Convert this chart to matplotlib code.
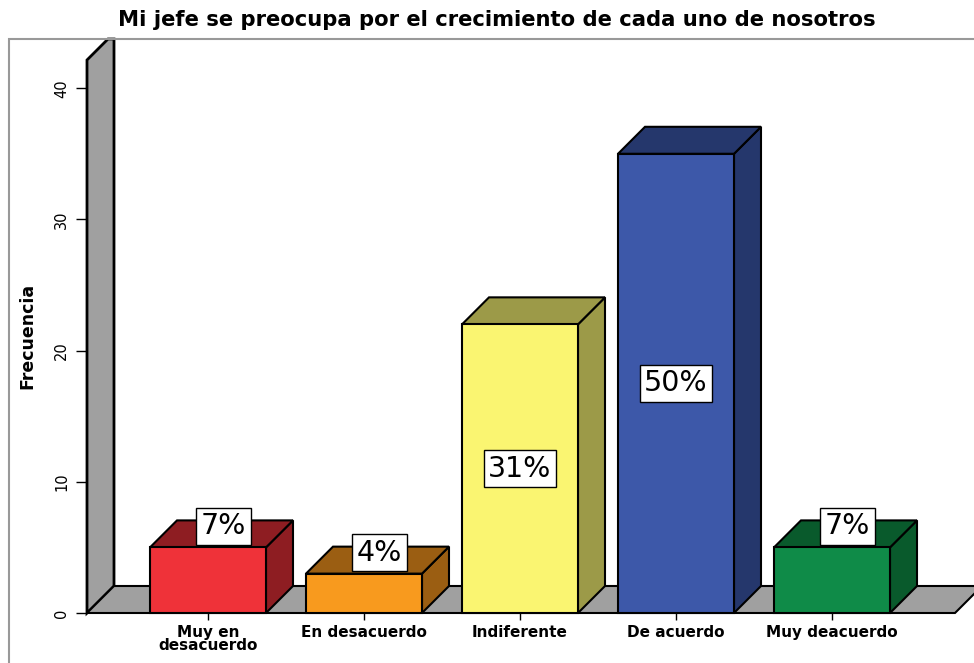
import matplotlib.pyplot as plt
from matplotlib.patches import Polygon, Rectangle

categorias = ["Muy en\ndesacuerdo", "En desacuerdo", "Indiferente", "De acuerdo", "Muy deacuerdo"]
frecuencias = [5, 3, 22, 35, 5]
porcentajes = ["7%", "4%", "31%", "50%", "7%"]
colores_frente = ["#EF3239", "#F89A1E", "#FAF571", "#3D58A9", "#0F8B48"]
colores_lado = ["#8E1D22", "#9B5E12", "#9C9A48", "#25376C", "#095A2C"]
yticks = [0, 10, 20, 30, 40]

W, H = 974, 663
fig = plt.figure(figsize=(W / 100, H / 100), dpi=100)

# axes placed so that 0 sits on the front edge of the floor
ax_l, ax_r, ax_b, ax_t = 87, 974, 613, 39
ax = fig.add_axes([ax_l / W, (H - ax_b) / H, (ax_r - ax_l) / W, (ax_b - ax_t) / H])
paso = 156.0          # px between categories
px_y = 13.12          # px per unit of frequency
x0 = (ax_l - 208) / paso
x1 = (ax_r - 208) / paso
ytop = (ax_b - ax_t) / px_y
ax.set_xlim(x0, x1)
ax.set_ylim(0, ytop)
for s in ax.spines.values():
    s.set_visible(False)

dx = 27 / paso
dy = 27 / px_y
ancho = 116 / paso

def poly(pts, color, z, lw=1.5):
    p = Polygon(pts, closed=True, facecolor=color, edgecolor="black", lw=lw,
                zorder=z, clip_on=False)
    ax.add_patch(p)
    return p

# wall (cut by the frame line at the top) and floor
alto_pared = 42.15
gris = "#A0A0A0"
corte = (ytop - alto_pared) / dy * dx
poly([(x0, 0), (x0, alto_pared), (x0 + corte, ytop), (x0 + dx, ytop), (x0 + dx, dy)], gris, 1, 2)
fin_suelo = (955 - 208) / paso
poly([(x0, 0), (fin_suelo, 0), (fin_suelo + dx, dy), (x0 + dx, dy)], gris, 1.5, 1.5)

for i, v in enumerate(frecuencias):
    l = i - ancho / 2
    r = i + ancho / 2
    poly([(r, 0), (r + dx, dy), (r + dx, v + dy), (r, v)], colores_lado[i], 3)
    poly([(l, v), (r, v), (r + dx, v + dy), (l + dx, v + dy)], colores_lado[i], 3)
    poly([(l, 0), (r, 0), (r, v), (l, v)], colores_frente[i], 4)
    if v >= 10:
        tx, ty = i, v / 2
    else:
        tx, ty = i + 0.1, v + 1.6
    ax.text(tx, ty, porcentajes[i], ha="center", va="center", fontsize=20.5, zorder=6,
            bbox=dict(boxstyle="square,pad=0.16", facecolor="white", edgecolor="black", lw=1))

ax.set_yticks(yticks)
ax.set_yticklabels([str(t) for t in yticks], rotation=90, va="center", fontsize=10.5)
ax.tick_params(axis="y", length=8, width=1, pad=5)
ax.set_xticks(range(len(categorias)))
ax.set_xticklabels(categorias, fontsize=11, fontweight="bold", linespacing=0.85)
ax.tick_params(axis="x", length=5, width=1, pad=3.5)

fig.text(27 / W, 1 - 336 / H, "Frecuencia", rotation=90, ha="center", va="center",
         fontsize=12.5, fontweight="bold")
fig.text(497 / W, 1 - 20 / H, "Mi jefe se preocupa por el crecimiento de cada uno de nosotros",
         ha="center", va="center", fontsize=15.2, fontweight="bold")

# outer frame
marco = Rectangle((9 / W, -0.1), 1.2, 1.1 - 39 / H, transform=fig.transFigure,
                  fill=False, edgecolor="#999999", lw=1.5, zorder=10)
fig.patches.append(marco)

fig.savefig("out.png", dpi=100)
